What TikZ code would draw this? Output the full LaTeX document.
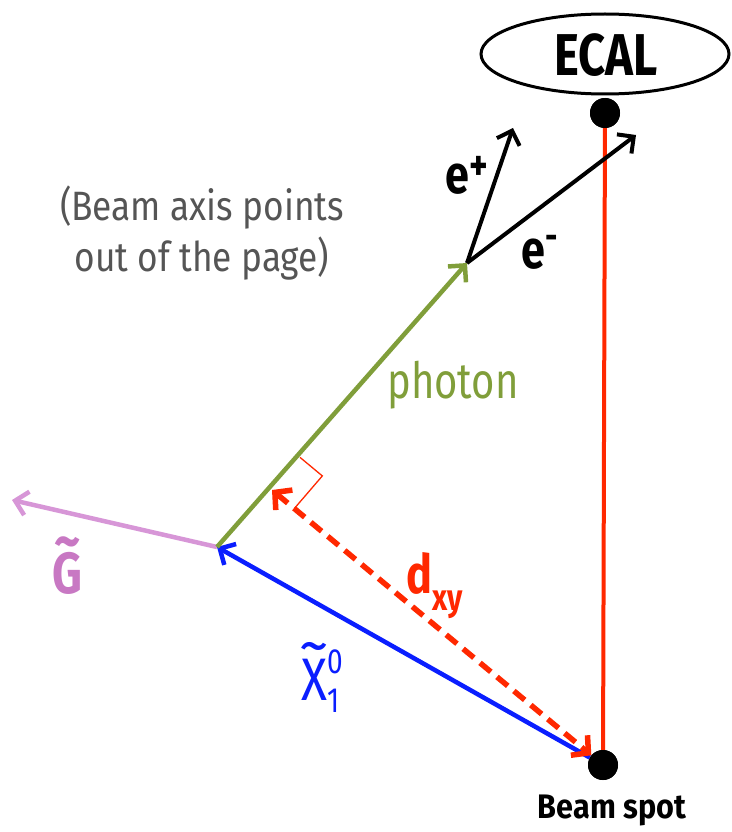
\documentclass[tikz,border=0pt]{standalone}
\usepackage{fontspec}
\usetikzlibrary{arrows.meta,shapes.geometric,calc}
\setmainfont{Fira Sans}
\newfontfamily\condfont[FakeStretch=0.8]{Fira Sans}
\newfontfamily\beamfont[FakeStretch=0.9]{Fira Sans}
\newfontfamily\grayfont[FakeStretch=0.86]{Fira Sans}
\newcommand\tildeover[3]{\ooalign{#3\cr\hidewidth\raisebox{#1}{\scalebox{#2}[1]{\char"7E}}\hidewidth\cr}}
\definecolor{myred}{RGB}{255,40,0}
\definecolor{mygreen}{RGB}{128,158,58}
\definecolor{myblue}{RGB}{10,30,255}
\definecolor{mypinkline}{RGB}{215,150,215}
\definecolor{mypink}{RGB}{200,120,195}
\definecolor{mygray}{RGB}{85,85,85}
\tikzset{
  barb/.style={-{Straight Barb[length=12pt,width=24pt]}},
  dot/.style={circle,fill=black,inner sep=0pt,minimum size=30pt},
  lbl/.style={inner sep=0pt,anchor=center},
}
\begin{document}
\begin{tikzpicture}[x=1pt,y=-1pt]
\useasboundingbox (0,0) rectangle (731,832);
% points
\node[dot] (beamdot) at (603,765) {};
\node[dot] (ecaldot) at (605,113) {};
\coordinate (vtx) at (217,547);
\coordinate (conv) at (467,263);
\coordinate (ep) at (513,128);
\coordinate (em) at (636,135);
\coordinate (gend) at (12,500);
\coordinate (F) at (272,490);
% ECAL
\node[ellipse,draw,line width=3pt,minimum width=248pt,minimum height=80pt,inner sep=0pt] (ecal) at (605,54) {};
\node[lbl,font={\condfont\bfseries\fontsize{59}{59}\selectfont}] (ecaltxt) at (606,55) {ECAL};
% red vertical
\draw[myred,line width=4pt] (beamdot) -- (ecaldot);
% neutralino
\draw[myblue,line width=4.5pt,barb] (beamdot) -- (vtx);
% gravitino
\draw[mypinkline,line width=4.5pt,barb] (vtx) -- (gend);
% photon
\draw[mygreen,line width=4.5pt,barb] (vtx) -- (conv);
% electrons
\draw[black,line width=4pt,barb] (conv) -- (ep);
\draw[black,line width=4pt,barb] (conv) -- (em);
% dxy
\draw[myred,line width=5.5pt,dash pattern=on 14pt off 8pt,{Straight Barb[length=12pt,width=26pt]}-{Straight Barb[length=12pt,width=26pt]}] (F) -- (beamdot);
% right angle marker
\coordinate (ra1) at ($(F)!43pt!(conv)$);
\coordinate (ra2) at ($(F)!29pt!(beamdot)$);
\draw[myred,line width=1.3pt] (ra1) -- ($(ra1)+(ra2)-(F)$) -- (ra2);
% dots on top
\node[dot] at (beamdot) {};
\node[dot] at (ecaldot) {};
% labels
\node[lbl,font={\grayfont\fontsize{41}{51}\selectfont},text=mygray,align=center] (note) at (202,233) {(Beam axis points\\out of the page)};
\node[lbl,font={\condfont\fontsize{50}{50}\selectfont},text=mygreen] (photon) at (453,385) {photon};
\node[lbl,font={\condfont\bfseries\fontsize{54}{54}\selectfont},anchor=base west] (eplbl) at (445,193) {e\raisebox{13pt}{\fontsize{44}{44}\selectfont +}};
\node[lbl,font={\condfont\bfseries\fontsize{54}{54}\selectfont},anchor=base west] (emlbl) at (521,268) {e\raisebox{19pt}{\fontsize{38}{38}\selectfont -}};
\node[lbl,font={\condfont\bfseries\fontsize{54}{54}\selectfont},text=myred,anchor=base west] (dxy) at (406,593) {d\raisebox{-17pt}{\fontsize{37}{37}\selectfont xy}};
\node[lbl,font={\condfont\fontsize{60}{60}\selectfont},text=myblue,anchor=base west] (chi) at (301,700) {\tildeover{35pt}{1.25}{X}\rlap{\raisebox{27pt}{\fontsize{35}{35}\selectfont 0}}\raisebox{-12pt}{\fontsize{35}{35}\selectfont 1}};
\node[lbl,font={\condfont\bfseries\fontsize{58}{58}\selectfont},text=mypink,anchor=base west] (glbl) at (52,593) {\tildeover{33pt}{1.1}{G}};
\node[lbl,font={\beamfont\bfseries\fontsize{34}{34}\selectfont}] (beamlbl) at (612,810) {Beam spot};
\end{tikzpicture}
\end{document}
